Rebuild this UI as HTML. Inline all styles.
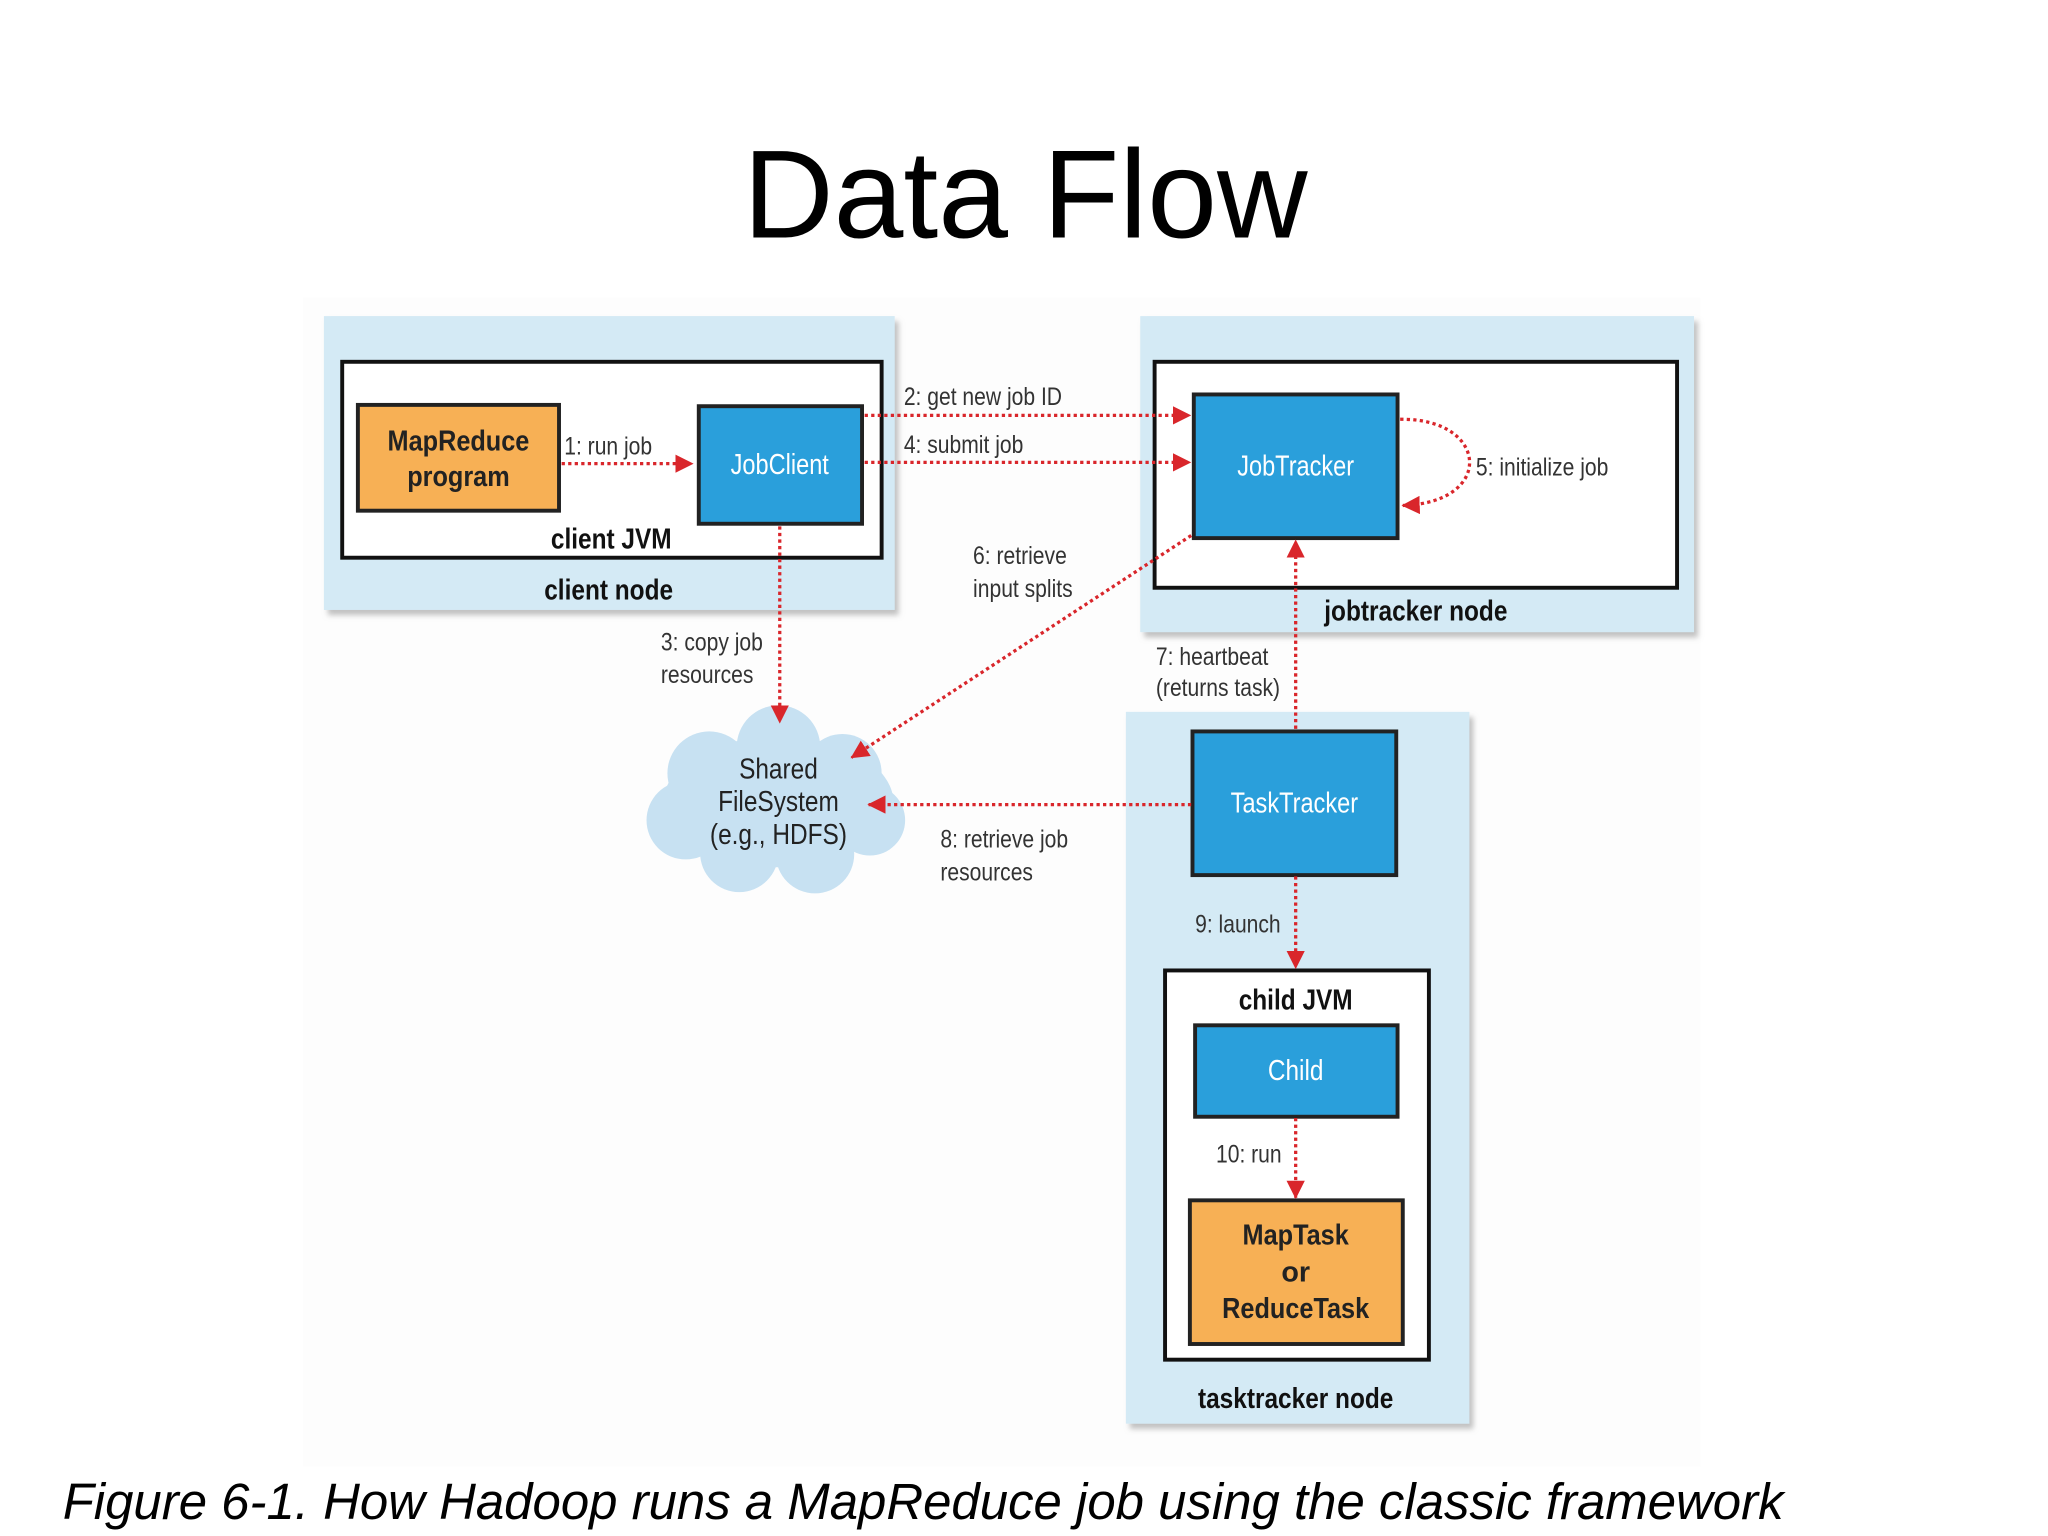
<!DOCTYPE html>
<html><head><meta charset="utf-8"><style>
html,body{margin:0;padding:0;background:#fff;}
svg{display:block;}
text{font-family:"Liberation Sans",sans-serif;}
</style></head><body>
<svg width="2048" height="1536" viewBox="0 0 1568 1176" preserveAspectRatio="none" xmlns="http://www.w3.org/2000/svg">
<defs>
<marker id="ah" markerWidth="14" markerHeight="14" refX="13" refY="7" orient="auto" markerUnits="userSpaceOnUse" viewBox="0 0 14 14">
<path d="M0,0 L14,7 L0,14 z" fill="#d9262b"/>
</marker>
<filter id="sh" x="-5%" y="-5%" width="115%" height="115%"><feDropShadow dx="3" dy="4" stdDeviation="2" flood-color="#999" flood-opacity="0.6"/></filter>
</defs>
<rect x="0" y="0" width="1568" height="1176" fill="#fff"/>
<rect x="232" y="228" width="1070" height="895" fill="#fdfdfd"/>
<text x="785" y="182" font-size="96" text-anchor="middle" fill="#000">Data Flow</text>

<!-- client node -->
<rect x="248" y="242" width="437" height="225" fill="#d4eaf5" filter="url(#sh)"/>
<rect x="262" y="277" width="413" height="150" fill="#fff" stroke="#111" stroke-width="3"/>
<rect x="274" y="310" width="154" height="81" fill="#f7b055" stroke="#222" stroke-width="3"/>
<text x="351" y="345" font-size="22" font-weight="bold" text-anchor="middle" fill="#222" transform="translate(351 0) scale(0.88 1) translate(-351 0)">MapReduce</text>
<text x="351" y="372" font-size="22" font-weight="bold" text-anchor="middle" fill="#222" transform="translate(351 0) scale(0.88 1) translate(-351 0)">program</text>
<rect x="535" y="311" width="125" height="90" fill="#2a9fdb" stroke="#222" stroke-width="3"/>
<text x="597" y="363" font-size="22" text-anchor="middle" fill="#fff" transform="translate(597 0) scale(0.82 1) translate(-597 0)">JobClient</text>
<text x="468" y="420" font-size="22" font-weight="bold" text-anchor="middle" fill="#111" transform="translate(468 0) scale(0.85 1) translate(-468 0)">client JVM</text>
<text x="466" y="459" font-size="22" font-weight="bold" text-anchor="middle" fill="#111" transform="translate(466 0) scale(0.85 1) translate(-466 0)">client node</text>

<!-- jobtracker node -->
<rect x="873" y="242" width="424" height="242" fill="#d4eaf5" filter="url(#sh)"/>
<rect x="884" y="277" width="400" height="173" fill="#fff" stroke="#111" stroke-width="3"/>
<rect x="914" y="302" width="156" height="110" fill="#2a9fdb" stroke="#222" stroke-width="3"/>
<text x="992" y="364" font-size="22" text-anchor="middle" fill="#fff" transform="translate(992 0) scale(0.82 1) translate(-992 0)">JobTracker</text>
<text x="1084" y="475" font-size="22" font-weight="bold" text-anchor="middle" fill="#111" transform="translate(1084 0) scale(0.85 1) translate(-1084 0)">jobtracker node</text>

<!-- tasktracker node -->
<rect x="862" y="545" width="263" height="545" fill="#d4eaf5" filter="url(#sh)"/>
<rect x="913" y="560" width="156" height="110" fill="#2a9fdb" stroke="#222" stroke-width="3"/>
<text x="991" y="622" font-size="22" text-anchor="middle" fill="#fff" transform="translate(991 0) scale(0.82 1) translate(-991 0)">TaskTracker</text>
<rect x="892" y="743" width="202" height="298" fill="#fff" stroke="#111" stroke-width="3"/>
<text x="992" y="773" font-size="22" font-weight="bold" text-anchor="middle" fill="#111" transform="translate(992 0) scale(0.85 1) translate(-992 0)">child JVM</text>
<rect x="915" y="785" width="155" height="70" fill="#2a9fdb" stroke="#222" stroke-width="3"/>
<text x="992" y="827" font-size="22" text-anchor="middle" fill="#fff" transform="translate(992 0) scale(0.85 1) translate(-992 0)">Child</text>
<rect x="911" y="919" width="163" height="110" fill="#f7b055" stroke="#222" stroke-width="3"/>
<text x="992" y="953" font-size="22" font-weight="bold" text-anchor="middle" fill="#222" transform="translate(992 0) scale(0.88 1) translate(-992 0)">MapTask</text>
<text x="992" y="981" font-size="22" font-weight="bold" text-anchor="middle" fill="#222">or</text>
<text x="992" y="1009" font-size="22" font-weight="bold" text-anchor="middle" fill="#222" transform="translate(992 0) scale(0.88 1) translate(-992 0)">ReduceTask</text>
<text x="992" y="1078" font-size="22" font-weight="bold" text-anchor="middle" fill="#111" transform="translate(992 0) scale(0.85 1) translate(-992 0)">tasktracker node</text>

<!-- cloud -->
<g fill="#c7e1f2">
<ellipse cx="596" cy="614" rx="88" ry="50"/>
<circle cx="543" cy="592" r="32"/>
<circle cx="596" cy="572" r="32"/>
<circle cx="645" cy="592" r="30"/>
<circle cx="525" cy="628" r="30"/>
<circle cx="666" cy="628" r="27"/>
<circle cx="566" cy="653" r="30"/>
<circle cx="624" cy="654" r="30"/>
</g>
<g font-size="22" text-anchor="middle" fill="#222">
<text x="596" y="596" transform="translate(596 0) scale(0.85 1) translate(-596 0)">Shared</text>
<text x="596" y="621" transform="translate(596 0) scale(0.85 1) translate(-596 0)">FileSystem</text>
<text x="596" y="646" transform="translate(596 0) scale(0.85 1) translate(-596 0)">(e.g., HDFS)</text>
</g>

<!-- arrows -->
<g stroke="#d9262b" stroke-width="2.5" stroke-dasharray="2.5 2.5" fill="none" marker-end="url(#ah)">
<line x1="430" y1="355" x2="530" y2="355"/>
<line x1="662" y1="318" x2="911" y2="318"/>
<line x1="662" y1="354" x2="911" y2="354"/>
<path d="M1072,321 C1140,320 1145,385 1074,387"/>
<line x1="912" y1="410" x2="652" y2="580"/>
<line x1="597" y1="403" x2="597" y2="553"/>
<line x1="992" y1="558" x2="992" y2="414"/>
<line x1="912" y1="616" x2="665" y2="616"/>
<line x1="992" y1="671" x2="992" y2="741"/>
<line x1="992" y1="856" x2="992" y2="917"/>
</g>

<g font-size="19" fill="#333">
<text x="432" y="348" transform="translate(432 0) scale(0.85 1) translate(-432 0)">1: run job</text>
<text x="692" y="310" transform="translate(692 0) scale(0.85 1) translate(-692 0)">2: get new job ID</text>
<text x="692" y="347" transform="translate(692 0) scale(0.85 1) translate(-692 0)">4: submit job</text>
<text x="1130" y="364" transform="translate(1130 0) scale(0.85 1) translate(-1130 0)">5: initialize job</text>
<text x="745" y="432" transform="translate(745 0) scale(0.85 1) translate(-745 0)">6: retrieve</text>
<text x="745" y="457" transform="translate(745 0) scale(0.85 1) translate(-745 0)">input splits</text>
<text x="506" y="498" transform="translate(506 0) scale(0.85 1) translate(-506 0)">3: copy job</text>
<text x="506" y="523" transform="translate(506 0) scale(0.85 1) translate(-506 0)">resources</text>
<text x="885" y="509" transform="translate(885 0) scale(0.85 1) translate(-885 0)">7: heartbeat</text>
<text x="885" y="533" transform="translate(885 0) scale(0.85 1) translate(-885 0)">(returns task)</text>
<text x="720" y="649" transform="translate(720 0) scale(0.85 1) translate(-720 0)">8: retrieve job</text>
<text x="720" y="674" transform="translate(720 0) scale(0.85 1) translate(-720 0)">resources</text>
<text x="915" y="714" transform="translate(915 0) scale(0.85 1) translate(-915 0)">9: launch</text>
<text x="931" y="890" transform="translate(931 0) scale(0.85 1) translate(-931 0)">10: run</text>
</g>

<text x="48" y="1163" font-size="39" font-style="italic" fill="#000">Figure 6-1. How Hadoop runs a MapReduce job using the classic framework</text>
</svg>
</body></html>
